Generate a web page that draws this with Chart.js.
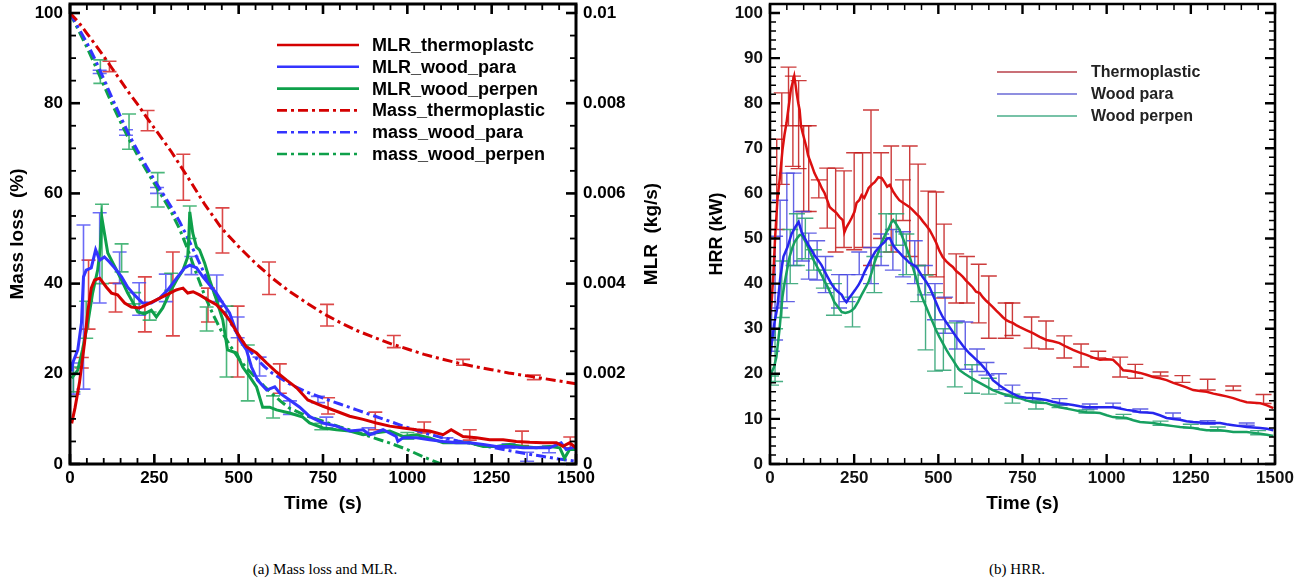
<!DOCTYPE html>
<html>
<head>
<meta charset="utf-8">
<script src="https://cdn.jsdelivr.net/npm/chart.js@4.4.1/dist/chart.umd.min.js"></script>
<style>
  html, body { margin: 0; padding: 0; background: #fff; }
  body { width: 1307px; height: 585px; position: relative; overflow: hidden; }
  .panel { position: absolute; top: 0; height: 530px; }
  #boxA { left: 0; width: 680px; }
  #boxB { left: 690px; width: 617px; }
  .cap { position: absolute; top: 561px; width: 300px; text-align: center;
         font-family: 'Liberation Serif', 'DejaVu Serif', serif; font-size: 15px; color: #000; }
</style>
</head>
<body>
<div class="panel" id="boxA"><canvas id="chartA"></canvas></div>
<div class="panel" id="boxB"><canvas id="chartB"></canvas></div>
<div class="cap" style="left:175px">(a) Mass loss and MLR.</div>
<div class="cap" style="left:867px">(b) HRR.</div>
<script>
// ---- axis ticks ----
const timeTicks = [0, 250, 500, 750, 1000, 1250, 1500];
const massTicks = [0, 20, 40, 60, 80, 100];
const mlrTicks = [0, 0.002, 0.004, 0.006, 0.008, 0.01];
const mlrTickLabels = ['0', '0.002', '0.004', '0.006', '0.008', '0.01'];
const hrrTicks = [0, 10, 20, 30, 40, 50, 60, 70, 80, 90, 100];

// ---- (a) mass loss rate, kg/s ----
const mlrThermoT = [5,15,28,43,53,63,73,88,108,123,141,162,182,206,226,256,286,315,335,349,365,384,410,434,453,473,503,523,553,583,612,642,672,705,750,790,829,869,908,948,987,1027,1066,1106,1130,1165,1205,1244,1284,1323,1363,1402,1442,1461,1481,1500];
const mlrThermo = [0.0009,0.00125,0.0018,0.00268,0.0034,0.0039,0.00408,0.00412,0.00392,0.00379,0.00375,0.00357,0.00348,0.00346,0.00353,0.00364,0.00375,0.00386,0.0039,0.00379,0.00382,0.00375,0.00363,0.00353,0.00338,0.00319,0.00282,0.0026,0.00246,0.00224,0.00204,0.00186,0.00169,0.00142,0.00128,0.00117,0.00106,0.00099,0.00091,0.00084,0.0008,0.00076,0.00073,0.00065,0.00076,0.00061,0.00058,0.00054,0.00054,0.0005,0.00048,0.00047,0.00047,0.00039,0.00047,0.00036];

const mlrParaT = [5,8,23,34,40,48,63,76,88,102,117,132,153,171,191,215,241,266,290,316,340,355,375,394,414,434,453,473,488,503,523,538,556,583,607,622,651,681,711,750,790,829,869,888,928,967,972,987,1027,1066,1106,1145,1185,1225,1264,1303,1343,1382,1422,1456,1471,1500];
const mlrPara = [0.00205,0.00224,0.00253,0.00313,0.00415,0.0043,0.00435,0.00475,0.00452,0.00459,0.00448,0.00435,0.00415,0.00392,0.00375,0.00357,0.00357,0.00368,0.00386,0.00412,0.00435,0.00441,0.00435,0.00415,0.00397,0.00379,0.00357,0.00335,0.00304,0.00275,0.00253,0.00215,0.00186,0.00164,0.00171,0.00157,0.00142,0.00126,0.00105,0.00091,0.00084,0.00073,0.00076,0.00065,0.00076,0.00061,0.0005,0.00058,0.00058,0.00054,0.0005,0.00047,0.00047,0.00043,0.00039,0.00039,0.00036,0.00036,0.00036,0.00047,0.00032,0.00039];

const mlrPerpT = [5,8,23,37,53,67,82,90,94,102,112,127,142,157,171,186,201,221,241,256,275,295,316,335,349,352,355,364,375,384,399,414,434,453,467,494,512,533,553,571,592,612,651,690,710,750,790,829,869,908,948,987,1027,1066,1106,1145,1185,1225,1264,1303,1343,1382,1422,1452,1466,1481,1500];
const mlrPerp = [0.0019,0.00193,0.00208,0.00253,0.00313,0.00379,0.0043,0.00481,0.00548,0.00512,0.00468,0.00446,0.00424,0.00401,0.00379,0.00359,0.00337,0.00333,0.00341,0.00326,0.00346,0.00379,0.00408,0.0043,0.00459,0.005,0.00559,0.00512,0.00481,0.00475,0.00446,0.00408,0.00364,0.00319,0.00253,0.00246,0.00215,0.00193,0.00171,0.00126,0.00126,0.0012,0.00113,0.00104,0.00091,0.0008,0.00076,0.00073,0.00065,0.00069,0.00073,0.00061,0.00065,0.00058,0.00047,0.00047,0.00047,0.00039,0.00039,0.00043,0.00039,0.00036,0.00039,0.00036,0.00013,0.00032,0.00032];

// ---- (a) remaining mass, % ----
const massThermoT = [0,25,50,75,100,125,150,175,200,225,250,275,300,325,350,400,450,500,550,600,650,700,750,800,850,900,950,1000,1050,1100,1150,1200,1250,1300,1350,1400,1450,1500];
const massThermo = [100,98,95.5,93,90.4,87.7,85,82.3,79.8,77.1,74.5,71.9,69.3,66.4,63.5,57.5,52.2,48.2,44.5,41.2,38.3,35.8,33.4,31.4,29.6,28.1,26.7,25.5,24.3,23.3,22.4,21.6,20.9,20.2,19.6,19,18.4,17.8];

const massParaT = [0,25,50,75,100,125,150,175,200,225,250,275,300,325,350,375,400,425,450,475,500,525,550,575,600,650,700,750,800,850,900,950,1000,1050,1100,1150,1200,1250,1300,1350,1400,1450,1500];
const massPara = [100,96.7,93.4,89.6,85.4,81.1,77,73,69.5,66.2,63,60,57,53.7,50,46,42,38.2,34.7,31.4,28.4,25.8,23.6,21.7,20.1,17.8,16,14.6,13.3,12,10.7,9.4,8.1,6.9,5.9,5.1,4.4,3.7,3,2.3,1.7,1.1,0.6];

const massPerpT = [0,25,50,75,100,125,150,175,200,225,250,275,300,325,350,375,400,425,450,475,500,525,550,575,600,625,650,700,750,800,850,900,950,1000,1050,1100];
const massPerp = [100,96.2,92.4,88.3,84,79.8,75.8,72,68.5,65.3,62.2,59.1,55.9,52.1,47.4,42.2,37.2,33,29.3,26.2,23.4,21.1,19.2,17.3,15.5,13.9,12.4,10.7,9.5,8.2,7.1,5.8,4.6,3.2,1.5,0];

// ---- (a) error bars ----
const errMlrThermoT = [35,55,135,222,305,409,497,622,765,905,1050,1185,1340,1483];
const errMlrThermoLo = [0.00213,0.00299,0.00337,0.00293,0.00284,0.00315,0.00193,0.00157,0.00111,0.00076,0.00069,0.00053,0.00041,0.00036];
const errMlrThermoHi = [0.00236,0.00452,0.00401,0.00415,0.0047,0.0039,0.0035,0.00222,0.00147,0.00115,0.00093,0.00076,0.00073,0.0006];
const errMlrParaT = [10,40,88,147,205,284,360,435,497,562,652,760,885,1116,1300,1420];
const errMlrParaLo = [0.00155,0.00166,0.00357,0.004,0.0033,0.0036,0.0042,0.0036,0.0028,0.00195,0.0011,0.0008,0.00065,0.0005,0.00035,0.00025];
const errMlrParaHi = [0.00224,0.0053,0.00557,0.0047,0.00402,0.00421,0.0046,0.00419,0.00326,0.00237,0.0014,0.00104,0.0008,0.00058,0.00045,0.0004];
const errMlrPerpT = [10,48,95,153,190,236,300,355,405,464,527,602,745,1000];
const errMlrPerpLo = [0.0016,0.00279,0.004,0.00426,0.00355,0.00319,0.00385,0.005,0.00295,0.00193,0.0014,0.00102,0.00076,0.00055];
const errMlrPerpHi = [0.00215,0.00361,0.00576,0.00488,0.0038,0.00337,0.00423,0.00572,0.00348,0.0035,0.00264,0.00151,0.0009,0.0007];
const errMassThermoT = [117,230,336,452,590,762,960,1165,1375];
const errMassThermoLo = [87,73.9,58.5,46.8,37.6,30.6,25.8,21.9,18.7];
const errMassThermoHi = [89.3,78.4,68.7,56.8,44.8,35.4,28.5,23.2,19.7];
const errMassParaT = [88,166,258,735,1355];
const errMassParaLo = [86.6,72.9,60,13.6,0.6];
const errMassParaHi = [87.3,74.1,61.3,15,2.6];
const errMassPerpT = [90,175,260];
const errMassPerpLo = [84.4,69.8,57];
const errMassPerpHi = [89.6,77.6,64.6];

// ---- (b) heat release rate, kW ----
const hrrThermoT = [0,5,10,15,22,30,37,43,49,55,58,62,67,72,76,79,84,88,92,97,102,108,113,118,125,132,140,147,155,162,170,177,187,197,206,216,221,227,235,242,251,257,265,272,280,286,293,303,311,322,332,340,348,356,365,374,384,394,404,414,424,434,444,454,464,474,484,494,503,513,523,533,543,553,563,573,583,593,602,612,623,632,642,652,662,672,682,691,702,712,721,731,741,761,781,801,821,840,860,880,900,920,940,960,980,1000,1019,1035,1049,1070,1099,1118,1138,1158,1178,1198,1218,1237,1257,1277,1297,1317,1337,1356,1376,1396,1416,1436,1456,1476,1495];
const hrrThermo = [33,36,42,50,58.5,64,69.6,73,75.6,79,80.7,83,84.5,86,84,82.3,80,78.5,75,73.4,72,70.3,68.5,67.4,66,64.5,63.3,62.3,61,60.1,58.5,57,56.3,55.7,54.8,54.1,51.4,52.5,53.5,54.5,55.9,57.9,58.5,59.6,59,60,61.2,62,62.5,63.6,63.4,62.5,61.5,61.9,60.5,59.5,58.5,58,57.5,57,56.3,55.5,54.8,53.8,52.9,51.9,50.5,49,47.3,45.9,45,44.3,43.7,42.8,42.2,41.5,40.6,39.9,39.2,38.2,37.9,37,36.2,35.5,34.8,34,33.3,32.6,31.9,31.5,31.3,30.8,30.4,29.7,29,28.2,27.5,27.2,26.8,26,25.3,24.7,24.2,23.6,23.1,23.2,23.1,22,20.8,20.6,20.2,19.8,19.3,19,18.6,18,17.5,17,16.4,16.2,16,15.6,15.3,15,14.6,14.1,13.7,13.6,13.5,13,12.4];

const hrrParaT = [0,4,13,22,30,40,52,64,75,85,94,104,114,123,132,143,153,163,173,182,191,202,213,220,227,235,242,252,263,272,281,292,302,312,322,331,340,348,356,366,375,385,395,405,414,424,435,444,453,464,474,484,494,503,513,523,533,543,553,563,573,583,593,603,613,623,633,642,652,662,672,682,692,702,721,741,761,781,801,821,840,860,880,900,920,940,960,980,1000,1019,1039,1059,1079,1099,1118,1138,1158,1178,1198,1218,1237,1257,1277,1297,1317,1337,1356,1376,1396,1416,1436,1456,1476,1495];
const hrrPara = [24,26,31.2,34.8,41,46,48.1,51,52.5,53.7,51.4,50,48.6,47.5,46.3,45.2,44.1,42.6,41.2,40,39,38.2,37.5,36.5,35.9,36.8,37.5,38.5,39.7,41,42.6,44.2,45.7,47,47.9,48.6,49.2,50,50.1,48.5,47.6,46.8,46,45.3,44.6,44.2,43.7,42.6,41.5,40.4,39.2,37.5,35.7,34.1,32.6,31.5,30.4,29.3,28.2,27.2,26.2,25.3,24.5,23.8,23.1,22.4,21.6,20.8,19.8,18.6,18,17.4,16.9,16.4,15.6,14.9,14.7,14.6,14.4,14.2,13.8,13.5,13.3,13.1,12.8,12.6,12.6,12.6,12.6,12.6,12.3,12,11.8,11.5,11.4,11.3,10.8,10.2,10,9.8,9.5,9.3,9.2,9.1,9.1,9.1,8.8,8.6,8.4,8.2,8.1,8,7.8,7.5];

const hrrPerpT = [0,4,12,19,28,37,43,49,58,67,73,80,88,94,104,114,123,132,143,153,163,173,182,191,202,213,224,234,242,251,262,272,283,293,302,311,322,332,343,353,360,366,375,385,395,405,415,424,434,444,454,464,474,484,493,503,514,524,533,543,553,563,578,593,608,623,642,662,682,702,721,741,761,781,801,821,840,860,880,900,920,940,960,980,1000,1019,1039,1059,1079,1099,1118,1138,1158,1178,1198,1218,1237,1257,1277,1297,1317,1337,1356,1376,1396,1416,1436,1456,1476,1495];
const hrrPerp = [18,20.2,21.5,23.7,29.7,37,40,42.4,45.9,48.1,49.2,50,50.8,50.8,49.5,47.9,46.3,44.8,43.3,41.9,40.4,39,37.5,35.9,34.8,33.7,33.5,33.7,34,34.6,36,37.5,39,40.4,42.5,44.8,47,49.2,51,52.3,53.5,54.1,53.2,51.9,50,48.1,45.9,43.7,41.2,38.6,36.6,34.8,33,31.3,29.7,28.2,26.7,25.3,24.2,23.1,21.9,20.8,20,19.3,18.6,18,17.2,16.4,15.8,15.3,14.9,14.6,14.1,13.7,13.6,13.5,13,12.6,12.3,12,11.7,11.5,11.4,11.3,10.8,10.4,10.3,10.2,9.7,9.3,9.2,9.1,8.8,8.6,8.4,8.2,8.1,8,7.7,7.5,7.5,7.5,7.3,7.1,7.1,7.1,6.9,6.7,6.5,6.2];

// ---- (b) error bars ----
const errHrrThermoT = [20,35,55,68,85,100,115,145,170,195,220,250,275,300,330,360,395,415,440,470,494,517,553,585,620,650,700,720,777,820,874,924,975,1040,1085,1160,1225,1300,1376,1466];
const errHrrThermoLo = [52,62,75,66,65.5,56,56,59,52.3,47,48,47.5,48,44,50,47,54,46,44,42,41.5,36.8,35.7,35.7,31.3,27.9,27.9,28.5,25.7,25.5,23.5,21.5,23.5,19.3,19,19.5,18.1,16.4,16.3,13.4];
const errHrrThermoHi = [72,82.3,88,86,85,75,75,63,65.6,65.6,65,69,69,78.5,69,70.5,63,70.5,66.5,60.5,60.3,53.2,46.6,46,44.3,41.7,35.7,35.7,32.6,31.7,28.4,26.6,25,23.7,22.1,20.4,19.6,18.8,17.3,15.4];
const errHrrParaT = [5,15,30,50,70,95,115,140,165,205,230,265,300,330,365,395,430,460,490,520,555,580,615,643,680,720,780,860,950,1019,1100,1197,1300,1416];
const errHrrParaLo = [25,27.5,34.6,36,44,45,41,40.8,38,34.6,36,42,40,44,43,41.5,40,37.5,32,29,25.5,21,20.5,19.7,16.5,15,14,13,12.2,12.6,11.5,10.2,8.8,8.6];
const errHrrParaHi = [38,50.5,58.5,64.5,64.5,56,51.2,49.5,46,42,42,47,48,51,52,51.5,49.5,44,40,37,31.7,31.5,25.5,22.5,20,17.5,15.8,14.5,13.3,13.5,12.2,11.3,9.6,9.1];
const errHrrPerpT = [3,15,35,60,80,105,130,160,190,245,310,345,375,405,440,462,490,515,549,600,650,720,790,860,940,1050,1160,1250,1330,1450];
const errHrrPerpLo = [17.5,18.3,32.5,40,44,45.5,43,39,33,30.4,38,47,48.5,42,36,25.3,20.6,20.8,17.1,15.7,15.5,13.5,12.2,12.5,11.3,10,8.6,8,7.3,6.5];
const errHrrPerpHi = [19.5,30,45,52,55.5,54.5,47.5,43,40,37,46,55.5,55.5,51,44,41.9,38,30,31.3,22,19,15.5,14,13.2,12,11,9.5,8.8,8.2,7.4];

const pts = (ts, vs) => ts.map((t, i) => ({ x: t, y: vs[i] }));

Chart.defaults.font.family = "'Liberation Sans', Arial, sans-serif";
Chart.defaults.color = '#000';

const dashDot = [10, 4, 3, 4];
const RED = '#d40000', BLUE = '#3434ff', GREEN = '#0ea04a';

// inward ticks on all four sides plus the box
function frameTicks(cfg) {
  return {
    id: 'frameTicks',
    afterDraw(chart) {
      const ctx = chart.ctx, a = chart.chartArea;
      ctx.save();
      ctx.strokeStyle = '#000';
      cfg.sets.forEach(set => {
        const s = chart.scales[set.scale];
        set.major.forEach((m, i) => {
          const vals = [[m, true]];
          if (i < set.major.length - 1) {
            const step = (set.major[i + 1] - m) / set.div;
            for (let k = 1; k < set.div; k++) vals.push([m + k * step, false]);
          }
          vals.forEach(([v, isMajor]) => {
            const p = s.getPixelForValue(v);
            const len = isMajor ? cfg.majorLen : cfg.minorLen;
            ctx.lineWidth = isMajor ? cfg.majorW : cfg.minorW;
            ctx.beginPath();
            set.sides.forEach(side => {
              if (side === 'bottom') { ctx.moveTo(p, a.bottom); ctx.lineTo(p, a.bottom - len); }
              if (side === 'top') { ctx.moveTo(p, a.top); ctx.lineTo(p, a.top + len); }
              if (side === 'left') { ctx.moveTo(a.left, p); ctx.lineTo(a.left + len, p); }
              if (side === 'right') { ctx.moveTo(a.right, p); ctx.lineTo(a.right - len, p); }
            });
            ctx.stroke();
          });
        });
      });
      ctx.lineWidth = cfg.frameW;
      ctx.strokeRect(a.left, a.top, a.right - a.left, a.bottom - a.top);
      ctx.restore();
    }
  };
}

function errorBars(sets) {
  return {
    id: 'errorBars',
    beforeDatasetsDraw(chart) {
      const ctx = chart.ctx, a = chart.chartArea, xs = chart.scales.x;
      ctx.save();
      ctx.beginPath();
      ctx.rect(a.left, a.top, a.right - a.left, a.bottom - a.top);
      ctx.clip();
      sets.forEach(set => {
        const ys = chart.scales[set.axis];
        ctx.strokeStyle = set.color;
        ctx.lineWidth = set.width;
        set.t.forEach((t, i) => {
          const x = xs.getPixelForValue(t);
          const y0 = ys.getPixelForValue(set.lo[i]);
          const y1 = ys.getPixelForValue(set.hi[i]);
          ctx.beginPath();
          ctx.moveTo(x, y0); ctx.lineTo(x, y1);
          ctx.moveTo(x - set.cap, y0); ctx.lineTo(x + set.cap, y0);
          ctx.moveTo(x - set.cap, y1); ctx.lineTo(x + set.cap, y1);
          ctx.stroke();
        });
      });
      ctx.restore();
    }
  };
}

function legendBox(cfg) {
  return {
    id: 'legendBox',
    afterDraw(chart) {
      const ctx = chart.ctx;
      ctx.save();
      chart.data.datasets.forEach((ds, i) => {
        const y = cfg.y0 + i * cfg.dy;
        ctx.strokeStyle = cfg.colors ? cfg.colors[i] : ds.borderColor;
        ctx.lineWidth = cfg.lineW;
        ctx.setLineDash(ds.borderDash || []);
        ctx.beginPath();
        ctx.moveTo(cfg.x0, y); ctx.lineTo(cfg.x1, y);
        ctx.stroke();
        ctx.setLineDash([]);
        ctx.fillStyle = cfg.textColor;
        ctx.font = cfg.font;
        ctx.textBaseline = 'middle';
        ctx.fillText(ds.label, cfg.tx, y + 1);
      });
      ctx.restore();
    }
  };
}

// MLR title reads bottom-to-top like the left one
const mlrTitle = {
  id: 'mlrTitle',
  afterDraw(chart) {
    const ctx = chart.ctx, a = chart.chartArea;
    ctx.save();
    ctx.translate(652, (a.top + a.bottom) / 2);
    ctx.rotate(-Math.PI / 2);
    ctx.font = "bold 19px 'Liberation Sans', Arial, sans-serif";
    ctx.fillStyle = '#000';
    ctx.textAlign = 'center';
    ctx.textBaseline = 'middle';
    ctx.fillText('MLR  (kg/s)', 0, 0);
    ctx.restore();
  }
};

const fixY = w => s => { s.width = w; s.paddingTop = 0; s.paddingBottom = 0; };
const fixX = h => s => { s.height = h; s.paddingLeft = 0; s.paddingRight = 0; };
const setTicks = list => s => { s.ticks = list.map(v => ({ value: v })); };
const plain = v => String(v);

const lineDs = (label, data, color, width, axis, dash) => ({
  label, data, borderColor: color, backgroundColor: color, borderWidth: width,
  borderDash: dash || [], pointRadius: 0, tension: 0, fill: false, yAxisID: axis
});

// ---------- chart (a) ----------
new Chart(document.getElementById('chartA'), {
  type: 'line',
  data: {
    datasets: [
      lineDs('MLR_thermoplastc', pts(mlrThermoT, mlrThermo), RED, 3, 'y2'),
      lineDs('MLR_wood_para', pts(mlrParaT, mlrPara), BLUE, 3, 'y2'),
      lineDs('MLR_wood_perpen', pts(mlrPerpT, mlrPerp), GREEN, 3, 'y2'),
      lineDs('Mass_thermoplastic', pts(massThermoT, massThermo), RED, 3, 'y', dashDot),
      lineDs('mass_wood_para', pts(massParaT, massPara), BLUE, 3, 'y', dashDot),
      lineDs('mass_wood_perpen', pts(massPerpT, massPerp), GREEN, 3, 'y', dashDot)
    ]
  },
  options: {
    responsive: true,
    maintainAspectRatio: false,
    animation: false,
    devicePixelRatio: 1,
    events: [],
    layout: { padding: { top: 4, left: 0, right: 0, bottom: 0 } },
    plugins: { legend: { display: false }, tooltip: { enabled: false } },
    scales: {
      x: {
        type: 'linear', min: 0, max: 1500,
        grid: { display: false, drawTicks: false }, border: { display: false },
        afterBuildTicks: setTicks(timeTicks), afterFit: fixX(66),
        ticks: { padding: 4, maxRotation: 0, autoSkip: false, font: { size: 17, weight: 'bold' }, callback: plain },
        title: { display: true, text: 'Time  (s)', font: { size: 19, weight: 'bold' }, padding: { top: 0, bottom: 15 } }
      },
      y: {
        type: 'linear', position: 'left', min: 0, max: 102,
        grid: { display: false, drawTicks: false }, border: { display: false },
        afterBuildTicks: setTicks(massTicks), afterFit: fixY(70),
        ticks: { padding: 7, font: { size: 17, weight: 'bold' }, callback: plain },
        title: { display: true, text: 'Mass loss  (%)', font: { size: 19, weight: 'bold' }, padding: { top: 6, bottom: 0 } }
      },
      y2: {
        type: 'linear', position: 'right', min: 0, max: 0.0102,
        grid: { display: false, drawTicks: false }, border: { display: false },
        afterBuildTicks: setTicks(mlrTicks), afterFit: fixY(104),
        ticks: { padding: 7, font: { size: 17, weight: 'bold' },
                 callback: (v) => mlrTickLabels[mlrTicks.indexOf(v)] }
      }
    }
  },
  plugins: [
    errorBars([
      { t: errMassThermoT, lo: errMassThermoLo, hi: errMassThermoHi, axis: 'y', color: 'rgba(214,40,40,0.85)', width: 1.6, cap: 7 },
      { t: errMassParaT, lo: errMassParaLo, hi: errMassParaHi, axis: 'y', color: 'rgba(70,70,245,0.8)', width: 1.6, cap: 7 },
      { t: errMassPerpT, lo: errMassPerpLo, hi: errMassPerpHi, axis: 'y', color: 'rgba(30,165,90,0.8)', width: 1.6, cap: 7 },
      { t: errMlrThermoT, lo: errMlrThermoLo, hi: errMlrThermoHi, axis: 'y2', color: 'rgba(214,40,40,0.85)', width: 1.6, cap: 7 },
      { t: errMlrParaT, lo: errMlrParaLo, hi: errMlrParaHi, axis: 'y2', color: 'rgba(70,70,245,0.8)', width: 1.6, cap: 7 },
      { t: errMlrPerpT, lo: errMlrPerpLo, hi: errMlrPerpHi, axis: 'y2', color: 'rgba(30,165,90,0.8)', width: 1.6, cap: 7 }
    ]),
    frameTicks({
      frameW: 3, majorLen: 10, minorLen: 6, majorW: 2.6, minorW: 1.8,
      sets: [
        { scale: 'x', major: timeTicks, div: 5, sides: ['bottom', 'top'] },
        { scale: 'y', major: massTicks, div: 4, sides: ['left'] },
        { scale: 'y2', major: mlrTicks, div: 4, sides: ['right'] }
      ]
    }),
    legendBox({ x0: 277, x1: 359, tx: 372, y0: 45, dy: 21.8, lineW: 2.6,
                font: "bold 18px 'Liberation Sans', Arial, sans-serif", textColor: '#000' }),
    mlrTitle
  ]
});

// ---------- chart (b) ----------
new Chart(document.getElementById('chartB'), {
  type: 'line',
  data: {
    datasets: [
      lineDs('Thermoplastic', pts(hrrThermoT, hrrThermo), '#dc1010', 2.5, 'y'),
      lineDs('Wood para', pts(hrrParaT, hrrPara), '#2626ee', 2.5, 'y'),
      lineDs('Wood perpen', pts(hrrPerpT, hrrPerp), '#17a060', 2.5, 'y')
    ]
  },
  options: {
    responsive: true,
    maintainAspectRatio: false,
    animation: false,
    devicePixelRatio: 1,
    events: [],
    layout: { padding: { top: 4, left: 0, right: 32, bottom: 0 } },
    plugins: { legend: { display: false }, tooltip: { enabled: false } },
    scales: {
      x: {
        type: 'linear', min: 0, max: 1500,
        grid: { display: false, drawTicks: false }, border: { display: false },
        afterBuildTicks: setTicks(timeTicks), afterFit: fixX(66),
        ticks: { padding: 4, maxRotation: 0, autoSkip: false, font: { size: 17, weight: 'bold' }, color: '#111', callback: plain },
        title: { display: true, text: 'Time (s)', font: { size: 19, weight: 'bold' }, padding: { top: 0, bottom: 15 } }
      },
      y: {
        type: 'linear', position: 'left', min: 0, max: 102,
        grid: { display: false, drawTicks: false }, border: { display: false },
        afterBuildTicks: setTicks(hrrTicks), afterFit: fixY(80),
        ticks: { padding: 7, font: { size: 17, weight: 'bold' }, color: '#111', callback: plain },
        title: { display: true, text: 'HRR (kW)', font: { size: 18, weight: 'bold' }, padding: { top: 16, bottom: 0 } }
      }
    }
  },
  plugins: [
    errorBars([
      { t: errHrrThermoT, lo: errHrrThermoLo, hi: errHrrThermoHi, axis: 'y', color: 'rgba(195,25,25,0.85)', width: 1.4, cap: 8 },
      { t: errHrrParaT, lo: errHrrParaLo, hi: errHrrParaHi, axis: 'y', color: 'rgba(70,70,225,0.85)', width: 1.4, cap: 8 },
      { t: errHrrPerpT, lo: errHrrPerpLo, hi: errHrrPerpHi, axis: 'y', color: 'rgba(40,160,110,0.85)', width: 1.4, cap: 8 }
    ]),
    frameTicks({
      frameW: 2.5, majorLen: 10, minorLen: 6, majorW: 2.4, minorW: 1.5,
      sets: [
        { scale: 'x', major: timeTicks, div: 5, sides: ['bottom', 'top'] },
        { scale: 'y', major: hrrTicks, div: 5, sides: ['left', 'right'] }
      ]
    }),
    legendBox({ x0: 307, x1: 387, tx: 401, y0: 72, dy: 22, lineW: 1.4,
                colors: ['#b8404a', '#6a6ad6', '#4aae8a'],
                font: "bold 16px 'Liberation Sans', Arial, sans-serif", textColor: '#222' })
  ]
});
</script>
</body>
</html>
